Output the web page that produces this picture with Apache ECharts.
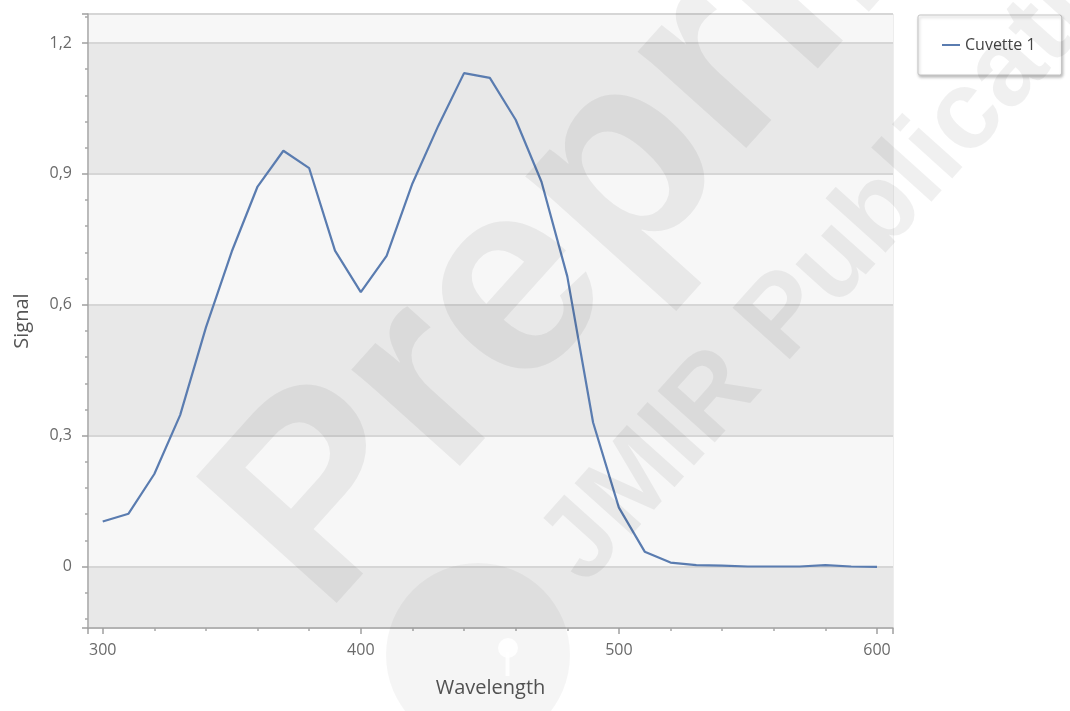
<!DOCTYPE html>
<html><head><meta charset="utf-8">
<script src="https://cdn.jsdelivr.net/npm/echarts@6/dist/echarts.min.js"></script>
<style>html,body{margin:0;padding:0;background:#fff}#c{width:1070px;height:711px}</style>
</head><body><div id="c"></div>
<script>
// ---- data ----
const wavelengths = [300,310,320,330,340,350,360,370,380,390,400,410,420,430,440,450,460,470,480,490,500,510,520,530,540,550,560,570,580,590,600];
const cuvette1 = [0.103,0.121,0.212,0.347,0.548,0.722,0.871,0.953,0.913,0.724,0.629,0.712,0.878,1.010,1.131,1.120,1.024,0.882,0.665,0.330,0.135,0.034,0.009,0.003,0.002,0.000,0.000,0.000,0.003,0.000,-0.001];
const seriesName = 'Cuvette 1';
const xAxisName = 'Wavelength';
const yAxisName = 'Signal';
const watermarkMain = 'Preprint';
const watermarkSub = 'JMIR Publications';

const points = wavelengths.map((w, i) => [w, cuvette1[i]]);
const FONT = '"Open Sans", "Noto Sans", sans-serif';
const WM = 'rgba(0,0,0,0.06)';
const chart = echarts.init(document.getElementById('c'));
chart.setOption({
  animation: false,
  backgroundColor: '#ffffff',
  grid: { left: 88, right: 177, top: 14, bottom: 83, show: true, borderColor: '#dcdcdc', borderWidth: 1, backgroundColor: 'transparent' },
  legend: {
    left: 918, top: 15, orient: 'vertical',
    padding: [22, 26, 22, 24],
    backgroundColor: '#ffffff', borderColor: '#c4c4c4', borderWidth: 1, borderRadius: 2,
    shadowColor: 'rgba(0,0,0,0.25)', shadowBlur: 3, shadowOffsetX: 1, shadowOffsetY: 2,
    itemWidth: 18, itemHeight: 2,
    textStyle: { fontFamily: FONT, fontSize: 16, color: '#444' },
    data: [{ name: seriesName, icon: 'rect' }]
  },
  xAxis: {
    type: 'value', min: 294.3, max: 606.2, splitNumber: 3,
    name: xAxisName, nameLocation: 'middle', nameGap: 50,
    nameTextStyle: { fontFamily: FONT, fontSize: 20, color: '#555' },
    axisLine: { show: true, onZero: false, lineStyle: { color: '#a8a8a8', width: 1.5 } },
    axisTick: { show: true, length: 6, lineStyle: { color: '#a0a0a0', width: 1.5 } },
    minorTick: { show: true, splitNumber: 5, length: 3, lineStyle: { color: '#a8a8a8', width: 1.5 } },
    axisLabel: { showMinLabel: false, showMaxLabel: false, margin: 14, fontFamily: FONT, fontSize: 16, color: '#6a6a6a' },
    splitLine: { show: false }
  },
  yAxis: {
    type: 'value', min: -0.141, max: 1.2665, splitNumber: 5,
    name: yAxisName, nameLocation: 'middle', nameGap: 56,
    nameTextStyle: { fontFamily: FONT, fontSize: 20, color: '#555' },
    axisLine: { show: true, onZero: false, lineStyle: { color: '#a8a8a8', width: 1.5 } },
    axisTick: { show: true, length: 6, lineStyle: { color: '#a0a0a0', width: 1.5 } },
    minorTick: { show: true, splitNumber: 5, length: 3, lineStyle: { color: '#a8a8a8', width: 1.5 } },
    axisLabel: { showMinLabel: false, showMaxLabel: false, margin: 16, fontFamily: FONT, fontSize: 16, color: '#6a6a6a',
      formatter: v => String(Math.round(v * 10) / 10).replace('.', ',') },
    splitLine: { show: true, lineStyle: { color: '#d6d6d6', width: 2 } },
    splitArea: { show: true, areaStyle: { color: ['#e8e8e8', '#f7f7f7'] } }
  },
  series: [{
    type: 'line', name: seriesName, data: points, symbol: 'none', smooth: false,
    lineStyle: { color: '#5a7cb0', width: 2.2 }, itemStyle: { color: '#5a7cb0' }, z: 3
  }],
  graphic: [
    { type: 'circle', z: 100, silent: true, shape: { cx: 478, cy: 655, r: 92 }, style: { fill: 'rgba(0,0,0,0.04)' } },
    { type: 'circle', z: 101, silent: true, shape: { cx: 508, cy: 648, r: 10 }, style: { fill: 'rgba(255,255,255,0.85)' } },
    { type: 'rect', z: 101, silent: true, shape: { x: 505.5, y: 652, width: 4, height: 24 }, style: { fill: 'rgba(255,255,255,0.85)' } },
    { type: 'text', z: 102, silent: true, x: 268, y: 566, rotation: 0.838,
      style: { text: watermarkMain, fontSize: 275, fontWeight: 'bold', fontFamily: '"Liberation Sans", Arial, sans-serif',
        fill: WM, align: 'left', verticalAlign: 'middle', textAlign: 'left', textVerticalAlign: 'middle' } },
    { type: 'text', z: 102, silent: true, x: 562, y: 566, rotation: 0.838,
      style: { text: watermarkSub, fontSize: 112, fontWeight: 'bold', fontFamily: '"Liberation Sans", Arial, sans-serif',
        fill: WM, align: 'left', verticalAlign: 'middle', textAlign: 'left', textVerticalAlign: 'middle' } }
  ]
});
</script>
</body></html>
